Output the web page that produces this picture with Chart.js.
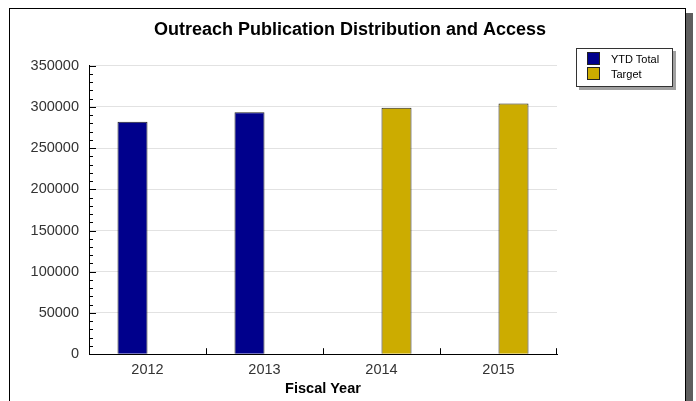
<!DOCTYPE html>
<html>
<head>
<meta charset="utf-8">
<script src="https://cdn.jsdelivr.net/npm/chart.js@4.4.1/dist/chart.umd.min.js"></script>
<style>
  html, body { margin: 0; padding: 0; background: #fff; }
  body { width: 696px; height: 401px; position: relative; overflow: hidden; }
  .frame {
    position: absolute; left: 9px; top: 8px; width: 677px; height: 430px;
    box-sizing: border-box; border: 1px solid #000; background: #fff;
    box-shadow: 7px 5px 0 #5e5e5e;
  }
  #chart { position: absolute; left: 0; top: 0; }
  .legend {
    position: absolute; left: 576px; top: 48px; width: 97px; height: 39px;
    box-sizing: border-box; border: 1px solid #333; background: #fff;
    box-shadow: 3px 3px 0 #a0a0a0;
    font: 11px "Liberation Sans", Arial, sans-serif; color: #000;
    padding-top: 2px;
  }
  .legend-item { height: 15px; display: flex; align-items: center; }
  .legend-swatch { width: 11px; height: 11px; border: 1px solid #222; margin: 0 11px 0 10px; }
</style>
</head>
<body>
<div class="frame"></div>
<canvas id="chart" width="696" height="401"></canvas>
<div class="legend" id="legend"></div>
<script>
// Data
const years = ['2012', '2013', '2014', '2015'];
const ytdTotal = [282000, 293500, null, null];
const target = [null, null, 299000, 304000];
const seriesNames = ['YTD Total', 'Target'];
const seriesColors = ['#00008c', '#ccac00'];

const FONT = '"Liberation Sans", Arial, sans-serif';

// Inner tick marks like the original (minor on y, boundary ticks on x)
const tickMarks = {
  id: 'tickMarks',
  afterDraw(chart) {
    const { ctx } = chart;
    const y = chart.scales.y;
    const x = chart.scales.x;
    ctx.save();
    ctx.strokeStyle = '#000';
    ctx.lineWidth = 1;
    ctx.beginPath();
    for (let v = 0; v <= 350000; v += 10000) {
      const py = Math.round(y.getPixelForValue(v)) + 0.5;
      const len = v % 50000 === 0 ? 7 : 4;
      ctx.moveTo(x.left, py);
      ctx.lineTo(x.left + len, py);
    }
    for (let i = 0; i < years.length; i++) {
      const px = i < years.length - 1
        ? Math.round((x.getPixelForValue(i) + x.getPixelForValue(i + 1)) / 2) + 0.5
        : Math.round(x.right) - 0.5;
      ctx.moveTo(px, y.bottom);
      ctx.lineTo(px, y.bottom - 6);
    }
    ctx.stroke();
    ctx.restore();
  }
};

const chart = new Chart(document.getElementById('chart'), {
  type: 'bar',
  data: {
    labels: years,
    datasets: [
      {
        label: seriesNames[0],
        data: ytdTotal,
        backgroundColor: seriesColors[0],
        borderColor: '#222',
        borderWidth: 1
      },
      {
        label: seriesNames[1],
        data: target,
        backgroundColor: seriesColors[1],
        borderColor: '#222',
        borderWidth: 1
      }
    ]
  },
  options: {
    responsive: false,
    animation: false,
    categoryPercentage: 0.513,
    barPercentage: 1,
    layout: { padding: { left: 4, right: 0, top: 0, bottom: 3 } },
    plugins: {
      legend: { display: false },
      tooltip: { enabled: false },
      title: {
        display: true,
        text: 'Outreach Publication Distribution and Access',
        color: '#000',
        font: { family: FONT, size: 18, weight: 'bold' },
        padding: { top: 19, bottom: 25 }
      }
    },
    scales: {
      x: {
        grid: { display: false, drawTicks: false },
        border: { display: true, color: '#000', width: 1 },
        ticks: { color: '#333', font: { family: FONT, size: 14.5 }, padding: 7 },
        title: {
          display: true,
          text: 'Fiscal Year',
          color: '#000',
          font: { family: FONT, size: 14.5, weight: 'bold' },
          padding: { top: -5, bottom: 0 }
        }
      },
      y: {
        min: 0,
        max: 350000,
        grid: { color: '#e2e2e2', drawTicks: false },
        border: { display: true, color: '#000', width: 1 },
        ticks: {
          stepSize: 50000,
          color: '#333',
          font: { family: FONT, size: 14.5 },
          padding: 10,
          callback: v => String(v)
        },
        afterFit(scale) { scale.width = 85; }
      },
      // empty right-hand spacer, keeps room for the legend
      spacer: {
        type: 'linear',
        position: 'right',
        grid: { display: false },
        border: { display: false },
        ticks: { display: false },
        afterFit(scale) { scale.width = 139; }
      }
    }
  },
  plugins: [tickMarks]
});

// Legend built from the datasets
const legend = document.getElementById('legend');
chart.data.datasets.forEach(ds => {
  const item = document.createElement('div');
  item.className = 'legend-item';
  const sw = document.createElement('span');
  sw.className = 'legend-swatch';
  sw.style.background = ds.backgroundColor;
  const txt = document.createElement('span');
  txt.textContent = ds.label;
  item.appendChild(sw);
  item.appendChild(txt);
  legend.appendChild(item);
});
</script>
</body>
</html>
